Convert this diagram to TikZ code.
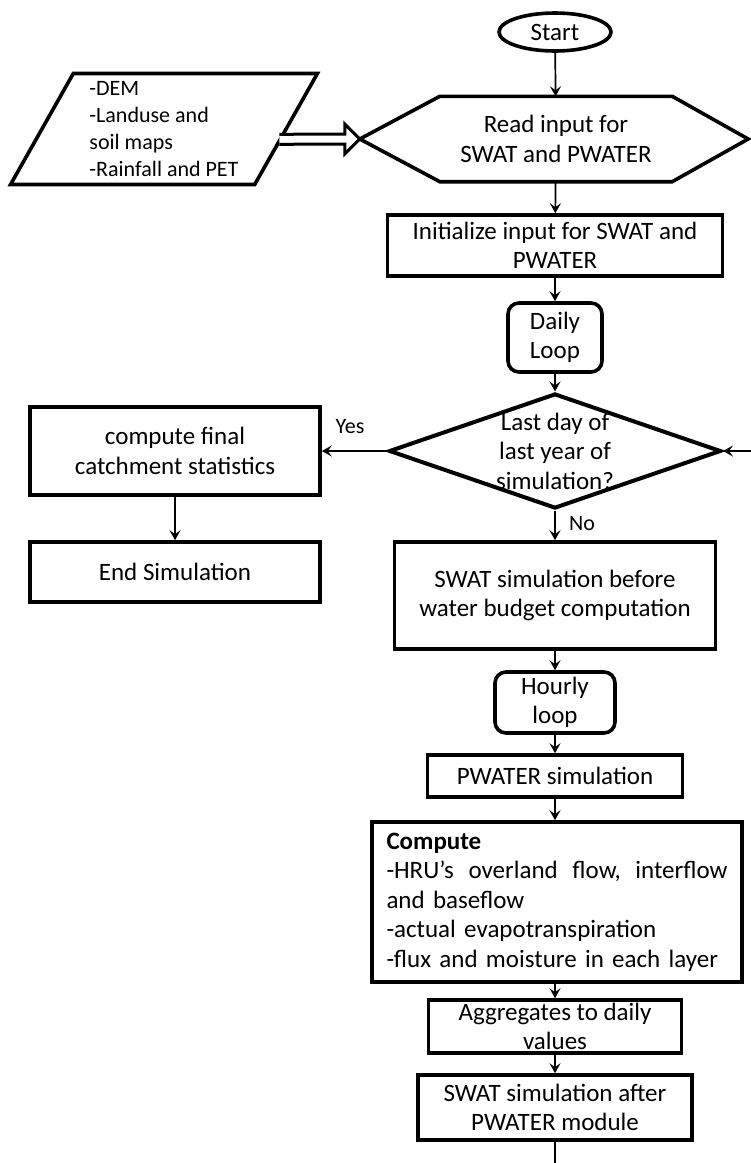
\documentclass[tikz,border=0pt]{standalone}
\usepackage{fontspec}
\setmainfont{Carlito}
\usetikzlibrary{arrows.meta, shapes.geometric, calc}

\begin{document}
\begin{tikzpicture}[x=1pt, y=-1pt, font=\fontsize{25}{29.5}\selectfont,
  box/.style={draw, line width=3.6pt, inner sep=0pt, align=center},
  loopbox/.style={box, rounded corners=11pt},
  arr/.style={-{Stealth[length=10pt, width=11pt, inset=4pt]}, line width=1.7pt},
  lbl/.style={font=\fontsize{22}{26}\selectfont}]

  \useasboundingbox (0,0) rectangle (751,1163);

  % Start, input data and reading
  \node[box, ellipse, minimum width=112, minimum height=38] (start) at (555,32) {Start};
  \node[box, trapezium, trapezium left angle=61.6, trapezium right angle=118.4,
        trapezium stretches=true, minimum width=308, minimum height=111,
        align=left, font=\fontsize{22}{27}\selectfont] (input) at (164,129)
        {-DEM\\-Landuse and\\soil maps\\-Rainfall and PET};
  \node[minimum width=232, minimum height=85, inner sep=0pt, align=center] (read) at (556,139)
        {Read input for\\SWAT and PWATER};
  \coordinate (readW) at ($(read.west)+(-80,0)$);
  \coordinate (readE) at ($(read.east)+(76,0)$);
  \draw[line width=3.6pt] (read.north west) -- (read.north east) -- (readE)
        -- (read.south east) -- (read.south west) -- (readW) -- cycle;

  % Daily part
  \node[box, minimum width=335, minimum height=61] (init) at (555,245.5) {Initialize input for SWAT and\\PWATER};
  \node[loopbox, minimum width=94, minimum height=69] (daily) at (555,337.5) {Daily\\Loop};
  \node[box, diamond, aspect=2.9, inner sep=-12pt, line width=4pt,
        minimum width=332, minimum height=115] (last) at (555,451)
        {Last day of\\last year of\\simulation?};
  \node[box, minimum width=290, minimum height=88] (final) at (175,451) {compute final\\catchment statistics};
  \node[box, minimum width=290, minimum height=60] (endsim) at (175,572) {End Simulation};
  \node[box, minimum width=321, minimum height=107] (before) at (555,595.5) {SWAT simulation before\\water budget computation};

  % Hourly part
  \node[loopbox, minimum width=120, minimum height=61] (hourly) at (555,702.5) {Hourly\\loop};
  \node[box, minimum width=255, minimum height=42] (pwater) at (555,776) {PWATER simulation};
  \node[box, minimum width=370, minimum height=160, text width=341, align=left] (compute) at (557,902)
        {\textbf{Compute}\\\makebox[341pt]{-HRU’s\hfill overland\hfill flow,\hfill interflow}\\and baseflow\\-actual evapotranspiration\\-flux and moisture in each layer};
  \node[box, minimum width=253, minimum height=53] (aggr) at (555,1026.5) {Aggregates to daily\\values};
  \node[box, minimum width=274, minimum height=65] (after) at (555,1107.5) {SWAT simulation after\\PWATER module};

  \node[lbl] (yes) at (350,427) {Yes};
  \node[lbl] (no) at (582,524) {No};
  \coordinate (loopS) at (555,1163);
  \coordinate (loopE) at (751,451);
  \coordinate (inR) at ($(input.top right corner)!0.59!(input.bottom right corner)$);

  % Connectors
  \draw[line width=3pt, fill=white] ($(inR)+(-3,-5)$) -- ($(readW)+(-15,-5)$) -- ($(readW)+(-15,-15)$)
        -- (readW) -- ($(readW)+(-15,15)$) -- ($(readW)+(-15,5)$) -- ($(inR)+(-3,5)$);
  \draw[arr] (start) -- (read);
  \draw[arr] (read) -- (init);
  \draw[arr] (init) -- (daily);
  \draw[arr] (daily) -- (last);
  \draw[arr] (last) -- (final);
  \draw[arr] (final) -- (endsim);
  \draw[arr] (last) -- (before);
  \draw[arr] (before) -- (hourly);
  \draw[arr] (hourly) -- (pwater);
  \draw[arr] (pwater) -- (pwater |- compute.north);
  \draw[arr] (compute.south -| aggr) -- (aggr);
  \draw[arr] (aggr) -- (after);
  \draw[line width=1.7pt] (after) -- (loopS);
  \draw[arr] (loopE) -- (last);
\end{tikzpicture}
\end{document}
